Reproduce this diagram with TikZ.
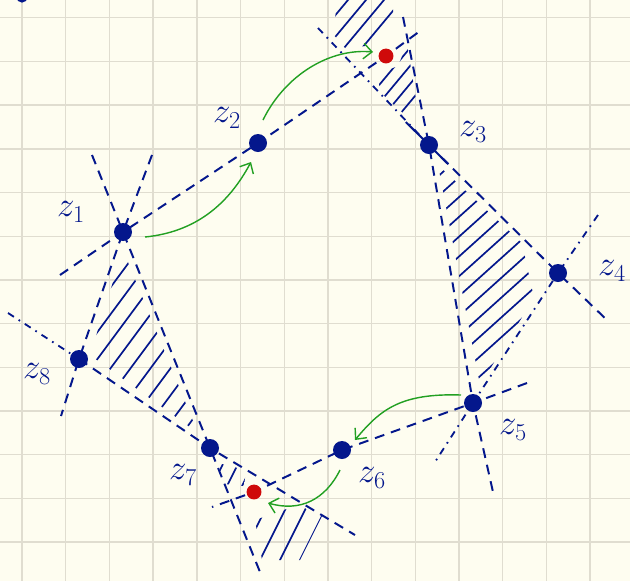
\documentclass[tikz,border=0pt]{standalone}
\usetikzlibrary{calc,arrows.meta}
\definecolor{bg}{HTML}{FEFDF0}
\definecolor{gridc}{HTML}{E0DDD0}
\definecolor{ink}{HTML}{04178C}
\definecolor{rdot}{HTML}{CF0A0A}
\definecolor{grn}{HTML}{22A022}
\pgfdeclarelayer{paper}
\pgfdeclarelayer{background}
\pgfsetlayers{paper,background,main}
\begin{document}
\begin{tikzpicture}[x=0.025cm,y=-0.025cm,
  dl/.style={ink, line width=1.4pt, dash pattern=on 7pt off 5pt},
  dd/.style={ink, line width=1.3pt, dash pattern=on 5pt off 4pt on 1.2pt off 4pt},
  hatch/.style={ink, line width=1.2pt},
  pt/.style={circle, fill=ink, inner sep=0pt, minimum size=12.8pt},
  rpt/.style={circle, fill=rdot, inner sep=0pt, minimum size=10.6pt},
  lab/.style={ink, font=\fontsize{26}{26}\selectfont},
  garrow/.style={grn, line width=1pt, -{Straight Barb[length=6pt,width=11pt]}},
]
\clip (0,0) rectangle (630,581);
% points
\node[pt] (z1) at (123,232) {};
\node[pt] (z2) at (258,143) {};
\node[rpt] (rT) at (386,56) {};
\node[pt] (z3) at (429,145) {};
\node[pt] (z4) at (558,273) {};
\node[pt] (z5) at (473,403) {};
\node[pt] (z6) at (342,450) {};
\node[rpt] (rB) at (254,492) {};
\node[pt] (z7) at (210,448) {};
\node[pt] (z8) at (79,359) {};
\node[pt, minimum size=8pt] (b0) at (22,-3) {};
% labels
\node[lab] (l1) at (71,212) {$z_1$};
\node[lab] (l2) at (227,118) {$z_2$};
\node[lab] (l3) at (473,132) {$z_3$};
\node[lab] (l4) at (612,271) {$z_4$};
\node[lab] (l5) at (513,430) {$z_5$};
\node[lab] (l6) at (372,478) {$z_6$};
\node[lab] (l7) at (183,475) {$z_7$};
\node[lab] (l8) at (37,374) {$z_8$};
% free ends of the extended lines
\coordinate (e1a) at (60,275);
\coordinate (e1b) at (152,155);
\coordinate (e1c) at (92,155);
\coordinate (eTa) at (420,31);
\coordinate (e3a) at (318,28);
\coordinate (e3b) at (403,17);
\coordinate (e4a) at (608,321);
\coordinate (e4b) at (598,215);
\coordinate (e5a) at (527,383);
\coordinate (e5b) at (435,462);
\coordinate (e5c) at (493,492);
\coordinate (eBa) at (212,507);
\coordinate (e7a) at (355,535);
\coordinate (e7b) at (262,577);
\coordinate (e8a) at (8,313);
\coordinate (e8b) at (61,416);
% green arrows
\draw[garrow] ([shift={(22,5)}]z1.center) .. controls (195,232) and (228,205) .. ([shift={(-7,19)}]z2.center);
\draw[garrow] ([shift={(5,-23)}]z2.center) .. controls (285,75) and (330,48) .. ([shift={(-13,-4)}]rT.center);
\draw[garrow] ([shift={(-12,-8)}]z5.center) .. controls (400,393) and (380,410) .. ([shift={(13,-10)}]z6.center);
\draw[garrow] ([shift={(-2,20)}]z6.center) .. controls (325,500) and (300,512) .. ([shift={(14,11)}]rB.center);
\begin{pgfonlayer}{paper}
  \fill[bg] (0,0) rectangle (630,581);
  \foreach \i in {0,...,14} \draw[gridc, line width=1pt] ({22+43.7*\i},0) -- ({22+43.7*\i},581);
  \foreach \i in {0,...,13} \draw[gridc, line width=1pt] (0,{17.7+43.7*\i}) -- (630,{17.7+43.7*\i});
\end{pgfonlayer}
\begin{pgfonlayer}{background}
  % lines
  \draw[dl] (e1a) -- (z1.center) -- (z2.center) -- (rT.center) -- (eTa);
  \draw[dl] (e1c) -- (z1.center) -- (z7.center) -- (e7b);
  \draw[dl] (e1b) -- (z1.center) -- (z8.center) -- (e8b);
  \draw[dd] (e8a) -- (z8.center);
  \draw[dl] (z8.center) -- (z7.center) -- (e7a);
  \draw[dl] (e5a) -- (z5.center) -- (z6.center) -- (rB.center) -- (eBa);
  \draw[dd] (e3a) -- (z3.center);
  \draw[dl] (z3.center) -- (z4.center) -- (e4a);
  \draw[dl] (e3b) -- (z3.center) -- (z5.center) -- (e5c);
  \draw[dd] (e4b) -- (z4.center) -- (z5.center) -- (e5b);
  \draw[ink, line width=1.4pt] ($(z3)!-0.18!(z4)$) -- ($(z3)!0.15!(z4)$);
  % hatching: triangle z3 z4 z5
  \begin{scope}
    \clip (438,165) -- (522,243) -- (534,298) -- (480,385) -- cycle;
    \foreach \c in {-20,2,...,420} \draw[hatch] ({\c-300},720) -- ({\c+500},0);
  \end{scope}
  % hatching: vertical angle at z3 (two parts, gap round the red point)
  \begin{scope}
    \clip (333,34) -- (338,-5) -- (392,-5) -- (394,24) -- (366,46) -- (345,48) -- cycle;
    \foreach \c in {-45,-27,...,135} \draw[hatch] ({\c-300},810) -- ({\c+400},-30);
  \end{scope}
  \begin{scope}
    \clip (378,74) -- (398,66) -- (407,44) -- (417,105) -- (404,114) -- (380,92) -- cycle;
    \foreach \c in {-45,-30,...,135} \draw[hatch] ({\c-300},810) -- ({\c+400},-30);
  \end{scope}
  % hatching: triangle z1 z8 z7
  \begin{scope}
    \clip (123,250) -- (90,355) -- (198,433) -- cycle;
    \foreach \c in {-30,-10,...,190} \draw[hatch] ({\c-300},855) -- ({\c+300},45);
  \end{scope}
  % hatching: vertical angle at z7
  \begin{scope}
    \clip (218,463) -- (246,470) -- (244,486) -- (224,484) -- cycle;
    \foreach \c in {215,230,...,290} \draw[hatch] ({\c-200},850) -- ({\c+300},-150);
  \end{scope}
  \begin{scope}
    \clip (255,520) -- (298,505) -- (322,516) -- (300,560) -- (262,560) -- cycle;
    \foreach \c in {215,235,...,410} \draw[hatch] ({\c-200},850) -- ({\c+300},-150);
  \end{scope}
\end{pgfonlayer}
\end{tikzpicture}
\end{document}
